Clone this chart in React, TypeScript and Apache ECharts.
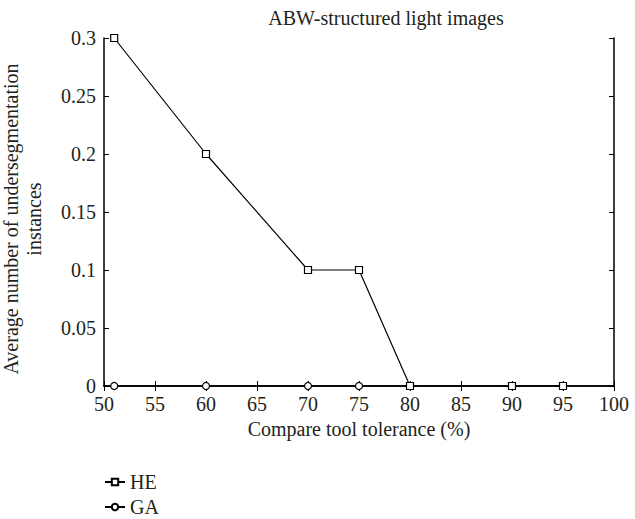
import React, { useEffect, useRef } from "react";
import * as echarts from "echarts";

const xHE = [51, 60, 70, 75, 80, 90, 95];
const yHE = [0.3, 0.2, 0.1, 0.1, 0, 0, 0];
const xGA = [51, 60, 70, 75, 80, 90, 95];
const yGA = [0, 0, 0, 0, 0, 0, 0];

const FONT = "'Liberation Serif', 'Times New Roman', serif";
const TXT = "#231f20";

export default function App() {
  const ref = useRef<HTMLDivElement>(null);
  useEffect(() => {
    if (!ref.current) return;
    const chart = echarts.init(ref.current, null, { renderer: "svg" });
    const axisCommon = {
      axisLine: { show: true, lineStyle: { color: "#000", width: 1.5 } },
      axisTick: { show: true, inside: true, length: 5, lineStyle: { color: "#000" } },
      splitLine: { show: false },
    };
    chart.setOption({
      animation: false,
      backgroundColor: "#fff",
      title: {
        text: "ABW-structured light images",
        left: 381,
        textAlign: "center",
        top: 3,
        textStyle: { fontFamily: FONT, fontWeight: "normal", fontSize: 20, color: TXT },
      },
      grid: { left: 104, right: 21, top: 38, bottom: 133, outerBoundsMode: "none", containLabel: false },
      legend: {
        orient: "vertical",
        left: 104,
        top: 472,
        padding: 0,
        itemWidth: 20,
        itemHeight: 8,
        itemGap: 5,
        textStyle: { fontFamily: FONT, fontSize: 20, color: TXT },
        data: ["HE", "GA"],
      },
      xAxis: [
        {
          type: "value",
          min: 50,
          max: 100,
          interval: 5,
          name: "Compare tool tolerance (%)",
          nameLocation: "middle",
          nameGap: 33,
          nameTextStyle: { fontFamily: FONT, fontSize: 20, color: TXT },
          axisLabel: { fontFamily: FONT, fontSize: 20, color: TXT, margin: 8 },
          ...axisCommon,
        },
        {
          type: "value",
          position: "top",
          min: 50,
          max: 100,
          interval: 5,
          axisLabel: { show: false },
          ...axisCommon,
        },
      ],
      yAxis: [
        {
          type: "value",
          min: 0,
          max: 0.3,
          interval: 0.05,
          name: "Average number of undersegmentation\ninstances",
          nameLocation: "middle",
          nameGap: 59,
          nameRotate: 90,
          nameTextStyle: {
            fontFamily: FONT,
            fontSize: 20,
            color: TXT,
            lineHeight: 23,
            padding: [0, 14, 0, 0],
          },
          axisLabel: { fontFamily: FONT, fontSize: 20, color: TXT, margin: 8 },
          ...axisCommon,
        },
        {
          type: "value",
          position: "right",
          min: 0,
          max: 0.3,
          interval: 0.05,
          axisLabel: { show: false },
          ...axisCommon,
        },
      ],
      series: [
        {
          name: "HE",
          type: "line",
          data: xHE.map((x, i) => [x, yHE[i]]),
          symbol: "rect",
          symbolSize: 7,
          showAllSymbol: true,
          itemStyle: { color: "#fff", borderColor: "#000", borderWidth: 1.2 },
          lineStyle: { color: "#000", width: 1.2 },
          z: 3,
        },
        {
          name: "GA",
          type: "line",
          data: xGA.map((x, i) => [x, yGA[i]]),
          symbol: "circle",
          symbolSize: 7,
          showAllSymbol: true,
          itemStyle: { color: "#fff", borderColor: "#000", borderWidth: 1.2 },
          lineStyle: { color: "#000", width: 1.2, type: "dashed" },
          z: 2,
        },
      ],
    });
    return () => chart.dispose();
  }, []);
  return (
    <div
      ref={ref}
      style={{ width: 635, height: 519, position: "fixed", left: 0, top: 0 }}
    />
  );
}
